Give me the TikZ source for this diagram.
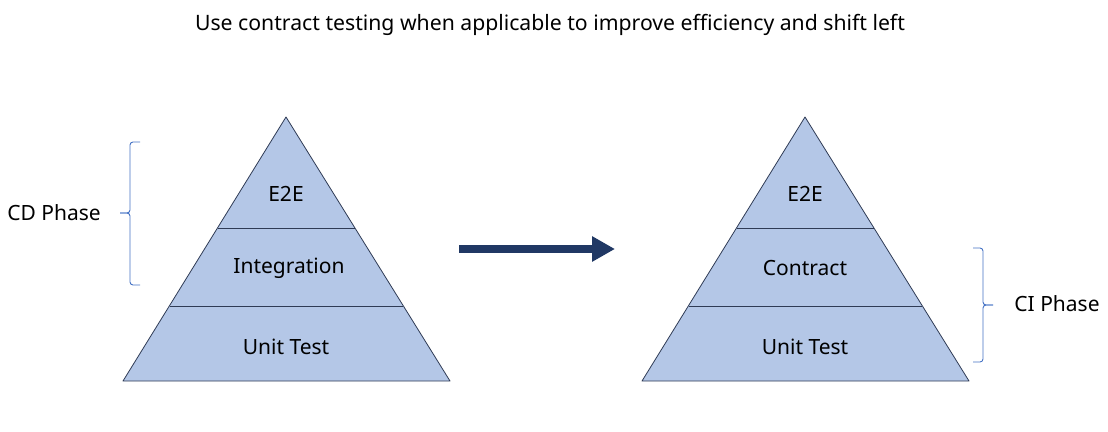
\documentclass[tikz,border=0pt]{standalone}
\usepackage{fontspec}
\setmainfont{Noto Sans}
\usetikzlibrary{arrows.meta,positioning}

\definecolor{layerfill}{HTML}{B4C7E7}
\definecolor{layerline}{HTML}{2F3B55}
\definecolor{arrowblue}{HTML}{203864}
\definecolor{bracecol}{HTML}{4472C4}

\begin{document}
\begin{tikzpicture}[x=1pt, y=-1pt,
    layer/.style={fill=layerfill, draw=layerline, line width=0.8pt, line join=round},
    tag/.style={inner sep=0, font=\fontsize{21}{24}\selectfont},
    bracket/.style={draw=bracecol, line width=0.9pt, rounded corners=3pt},
    shiftarrow/.style={-{Triangle[length=23pt,width=24pt]}, line width=8pt, color=arrowblue}]
				\useasboundingbox (0,0) rectangle (1108,431);
				% title
				\node[tag, font=\fontsize{21.2}{24}\selectfont] (title) at (550,25) {Use contract testing when applicable to improve efficiency and shift left};
				% left pyramid
				\draw[layer] (286,117) -- (450,381) -- (123,381) -- cycle;
				\draw[layer] (218,228) -- (355,228);
				\draw[layer] (170,306) -- (403,306);
				\node[tag] (e2eL) at (286,194) {E2E};
				\node[tag] (integ) at (289,268) {Integration};
				\node[tag] (unitL) at (286,347) {Unit Test};
				% right pyramid
				\draw[layer] (805,117) -- (969,381) -- (642,381) -- cycle;
				\draw[layer] (737,228) -- (874,228);
				\draw[layer] (689,306) -- (922,306);
				\node[tag] (e2eR) at (805,194) {E2E};
				\node[tag] (contract) at (805,268) {Contract};
				\node[tag] (unitR) at (805,347) {Unit Test};
				% arrow
				\coordinate (from) at (459,249);
				\coordinate (to) at (615,249);
				\draw[shiftarrow] (from) -- (to);
				% braces
				\node[tag] (cd) at (54,213) {CD Phase};
				\draw[bracket] (140,142) -- (130,142) -- (130,213) -- (120,213);
				\draw[bracket] (120,213) -- (130,213) -- (130,285) -- (140,285);
				\node[tag] (ci) at (1057,304) {CI Phase};
				\draw[bracket] (973,248) -- (983,248) -- (983,305) -- (993,305);
				\draw[bracket] (993,305) -- (983,305) -- (983,362) -- (973,362);
			\end{tikzpicture}
\end{document}
